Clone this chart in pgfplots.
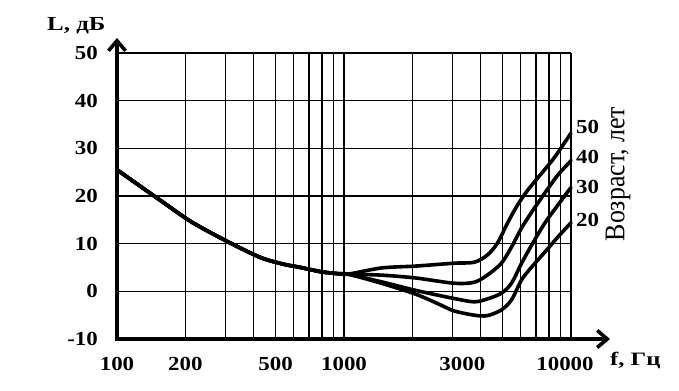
\documentclass[border=0pt]{standalone}
\usepackage{pgfplots}
\pgfplotsset{compat=1.18}
\usepackage{fontspec}
\setmainfont{Liberation Serif}
\newfontfamily\plainserif{Liberation Serif}
\usetikzlibrary{arrows.meta}
\newcommand{\sx}[1]{\scalebox{1.15}[1]{#1}}
\begin{document}
\begin{tikzpicture}
\useasboundingbox (0,0) rectangle (679bp,391bp);
\begin{axis}[
  at={(117bp,52bp)}, anchor=south west,
  scale only axis, width=454bp, height=286bp,
  xmode=log, xmin=100, xmax=10000, ymin=-10, ymax=50,
  axis line style={draw=none},
  xtick={100,200,500,1000,3000,10000},
  xticklabels={\sx{100},\sx{200},\sx{500},\sx{1000},\hspace*{20bp}\sx{3000},\sx{10000}\hspace*{12bp}},
  minor xtick={300,400,600,700,800,900,2000,4000,5000,6000,7000,8000,9000},
  ytick={-10,0,10,20,30,40,50},
  yticklabels={\sx{-10},\sx{0},\sx{10},\sx{20},\sx{30},\sx{40},\sx{50}},
  xmajorgrids, xminorgrids, ymajorgrids,
  grid style={black, line width=1.4bp},
  major grid style={black, line width=1.4bp},
  minor grid style={black, line width=1.4bp},
  major tick length=0pt, minor tick length=0pt,
  tick label style={font=\bfseries\fontsize{20}{22}\selectfont, inner sep=0pt},
  xticklabel style={anchor=center, yshift=-25bp},
  yticklabel style={anchor=east, xshift=-19bp},
  clip=false,
]
\addplot[black, line width=3.6bp, line cap=round, line join=round, smooth, tension=0.5] coordinates {
 (100,25.5) (154,19.2) (214,14.5) (311,10.3) (434,7.0) (564,5.5) (630,5.1) (794,4.1) (942,3.7) (1042,3.6)
 (1460,4.9) (2070,5.3) (3051,5.9) (3744,6.1) (4277,7.6) (4739,10.1) (5248,14.3) (5812,18.1) (6442,21.2) (7432,24.8) (8490,28.2) (10000,33.2)};
\addplot[black, line width=3.6bp, line cap=round, line join=round, smooth, tension=0.5] coordinates {
 (100,25.5) (154,19.2) (214,14.5) (311,10.3) (434,7.0) (564,5.5) (630,5.1) (794,4.1) (942,3.7) (1042,3.6)
 (1460,3.4) (2070,2.8) (3051,1.7) (3744,1.9) (4277,3.4) (4935,5.9) (5468,9.3) (6057,13.3) (6708,16.6) (7663,20.6) (8753,24.4) (10000,27.4)};
\addplot[black, line width=3.6bp, line cap=round, line join=round, smooth, tension=0.5] coordinates {
 (100,25.5) (154,19.2) (214,14.5) (311,10.3) (434,7.0) (564,5.5) (630,5.1) (794,4.1) (942,3.7) (1042,3.6)
 (1460,2.0) (2070,0.2) (3051,-1.5) (3744,-2.2) (4277,-1.6) (4935,-0.4) (5468,1.7) (6057,5.9) (6708,9.7) (7663,14.3) (8753,18.1) (10000,21.8)};
\addplot[black, line width=3.6bp, line cap=round, line join=round, smooth, tension=0.5] coordinates {
 (100,25.5) (154,19.2) (214,14.5) (311,10.3) (434,7.0) (564,5.5) (630,5.1) (794,4.1) (942,3.7) (1042,3.6)
 (1460,1.7) (2070,-0.6) (2620,-2.7) (3051,-4.1) (3744,-5.0) (4277,-5.1) (4935,-3.9) (5468,-1.8) (6057,2.4) (6708,5.1) (7663,8.2) (8753,11.4) (10000,14.4)};
\node[anchor=west, xshift=5bp, inner sep=0pt, font=\bfseries\fontsize{20}{22}\selectfont] at (axis cs:10000,34.4) {\sx{50}};
\node[anchor=west, xshift=5bp, inner sep=0pt, font=\bfseries\fontsize{20}{22}\selectfont] at (axis cs:10000,28.2) {\sx{40}};
\node[anchor=west, xshift=5bp, inner sep=0pt, font=\bfseries\fontsize{20}{22}\selectfont] at (axis cs:10000,21.8) {\sx{30}};
\node[anchor=west, xshift=5bp, inner sep=0pt, font=\bfseries\fontsize{20}{22}\selectfont] at (axis cs:10000,15.0) {\sx{20}};
\end{axis}
\draw[line width=3.6bp, -{Straight Barb[length=10bp,width=17bp]}] (117bp,50.2bp) -- (117bp,353bp);
\draw[line width=3.6bp, -{Straight Barb[length=10bp,width=17bp]}] (115.2bp,52bp) -- (610bp,52bp);
\node[anchor=base west, inner sep=0pt, font=\bfseries\fontsize{20}{22}\selectfont] at (47bp,360bp) {\scalebox{1.25}[1]{L, дБ}};
\node[anchor=base west, inner sep=0pt, font=\bfseries\fontsize{19}{21}\selectfont] at (610bp,26bp) {\scalebox{1.3}[1]{f, Гц}};
\node[rotate=90, inner sep=0pt] at (618bp,217bp) {\scalebox{1}[1.1]{\plainserif\fontsize{26}{28}\selectfont Возраст, лет}};
\end{tikzpicture}
\end{document}
